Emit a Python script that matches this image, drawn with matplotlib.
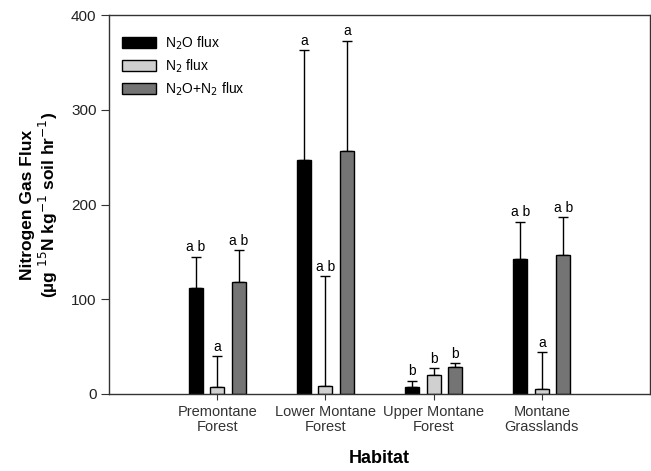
import numpy as np
import matplotlib
matplotlib.use('Agg')
import matplotlib.pyplot as plt

plt.rcParams['font.family'] = ['Liberation Sans', 'DejaVu Sans']

habitats = ['Premontane\nForest', 'Lower Montane\nForest', 'Upper Montane\nForest', 'Montane\nGrasslands']
n2o = [111.5, 247.5, 7.0, 143.0]
n2o_err = [33.5, 115.5, 7.0, 39.0]
n2 = [7.0, 8.5, 20.0, 5.0]
n2_err = [33.0, 116.0, 7.5, 39.0]
tot = [118.5, 256.0, 28.0, 147.0]
tot_err = [33.0, 117.0, 4.5, 39.5]
let_n2o = ['a b', 'a', 'b', 'a b']
let_n2 = ['a', 'a b', 'b', 'a']
let_tot = ['a b', 'a', 'b', 'a b']

series = [
    (n2o, n2o_err, let_n2o, '#000000', 'N$_2$O flux'),
    (n2, n2_err, let_n2, '#d0d0d0', 'N$_2$ flux'),
    (tot, tot_err, let_tot, '#747474', 'N$_2$O+N$_2$ flux'),
]

fig = plt.figure(figsize=(6.51, 4.71), dpi=100)
ax = fig.add_axes([0.1674, 0.1635, 0.8311, 0.8045])

x = np.arange(len(habitats))
offs = [-0.2, 0.0, 0.2]
w = 0.13
for (vals, errs, lets, col, lab), o in zip(series, offs):
    ax.bar(x + o, vals, w, color=col, edgecolor='black', linewidth=1.0, label=lab, zorder=2)
    ax.errorbar(x + o, vals, yerr=[np.zeros(len(vals)), errs], fmt='none',
                ecolor='black', elinewidth=1.0, capsize=3.6, capthick=1.0, zorder=1)
    for xi, v, e, t in zip(x + o, vals, errs, lets):
        ax.text(xi, v + e + 2.5, t, ha='center', va='bottom', fontsize=10)

ax.set_xlim(-1, 4)
ax.set_ylim(0, 400)
ax.set_yticks([0, 100, 200, 300, 400])
ax.set_xticks(x)
ax.set_xticklabels(habitats, fontsize=10.5, color='#222222', linespacing=1.05)
ax.tick_params(axis='y', direction='out', length=6, labelsize=11, colors='#333333', labelcolor='#222222', pad=3)
ax.tick_params(axis='x', direction='out', length=4, pad=4, colors='#333333')
for s in ax.spines.values():
    s.set_linewidth(1.0)
    s.set_color('#333333')

ax.set_ylabel('Nitrogen Gas Flux\n(µg $^{15}$N kg$^{-1}$ soil hr$^{-1}$)',
              fontsize=12.5, fontweight='bold', labelpad=8, linespacing=1.1)
ax.set_xlabel('Habitat', fontsize=13, fontweight='bold', labelpad=12)

leg = ax.legend(loc='upper left', bbox_to_anchor=(-0.011, 1.0), frameon=False, fontsize=10,
                handlelength=2.4, handleheight=0.8, labelspacing=0.4, borderaxespad=1.0,
                handletextpad=0.65)

fig.savefig('out.png', dpi=100)
